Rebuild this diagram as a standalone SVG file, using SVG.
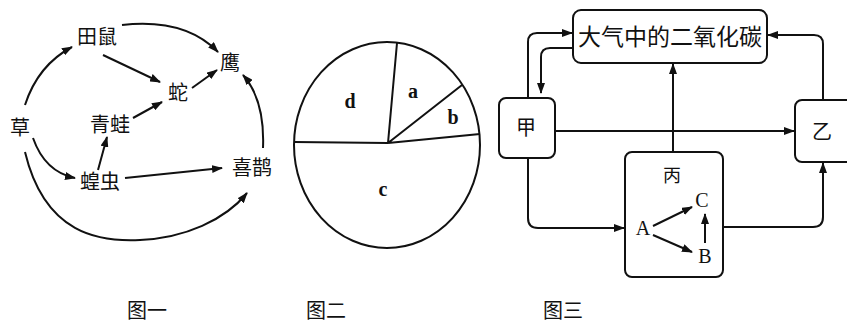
<svg xmlns="http://www.w3.org/2000/svg" width="847" height="325" viewBox="0 0 847 325">
<style>
.t{font-family:"Noto Sans CJK SC",sans-serif;font-size:20px;fill:#111;text-anchor:middle}
.s{font-family:"Liberation Serif",serif;font-size:20px;fill:#111;text-anchor:middle;font-weight:bold}
.ln{fill:none;stroke:#111;stroke-width:2}
.bx{fill:#fff;stroke:#111;stroke-width:2}
</style>
<defs>
<marker id="ah" markerUnits="userSpaceOnUse" markerWidth="11" markerHeight="8" refX="10" refY="4" orient="auto">
<path d="M0,0 L11,4 L0,8 z" fill="#111"/>
</marker>
</defs>
<rect width="847" height="325" fill="#fff"/>

<!-- Figure 1 -->
<g id="fig1-connectors">
<path class="ln" d="M25,105 Q38,65 72,47" marker-end="url(#ah)"/>
<path class="ln" d="M122,25 Q185,18 218,52" marker-end="url(#ah)"/>
<path class="ln" d="M103,55 L160,82" marker-end="url(#ah)"/>
<path class="ln" d="M192,88 L217,70" marker-end="url(#ah)"/>
<path class="ln" d="M133,118 L162,102" marker-end="url(#ah)"/>
<path class="ln" d="M98,170 L107,137" marker-end="url(#ah)"/>
<path class="ln" d="M33,138 Q45,172 75,178" marker-end="url(#ah)"/>
<path class="ln" d="M125,178 L222,168" marker-end="url(#ah)"/>
<path class="ln" d="M263,148 Q265,100 243,75" marker-end="url(#ah)"/>
<path class="ln" d="M25,152 C45,235 100,242 140,240 C185,238 225,220 247,193" marker-end="url(#ah)"/>
</g>
<g id="cao"><text class="t" x="20" y="135">草</text></g>
<g id="tianshu"><text class="t" x="97" y="44">田鼠</text></g>
<g id="ying"><text class="t" x="230" y="70">鹰</text></g>
<g id="she"><text class="t" x="178" y="100">蛇</text></g>
<g id="qingwa"><text class="t" x="110" y="132">青蛙</text></g>
<g id="huangchong"><text class="t" x="100" y="189">蝗虫</text></g>
<g id="xique"><text class="t" x="252" y="175">喜鹊</text></g>

<!-- Figure 2 -->
<g id="fig2">
<ellipse cx="387" cy="145" rx="93" ry="103" class="ln"/>
<path class="ln" d="M388,143 L294,142 M388,143 L480,134 M388,143 L397,43 M388,143 L462,85"/>
<text class="s" x="350" y="108">d</text>
<text class="s" x="413" y="98">a</text>
<text class="s" x="453" y="124">b</text>
<text class="s" x="383" y="196">c</text>
</g>

<!-- Figure 3 -->
<g id="co2"><rect class="bx" x="573" y="10" width="194" height="53" rx="8"/><text class="t" x="670" y="45" style="font-size:23px">大气中的二氧化碳</text></g>
<g id="jia"><rect class="bx" x="499" y="98" width="56" height="60" rx="7"/><text class="t" x="526" y="135">甲</text></g>
<g id="yi"><rect class="bx" x="795" y="100" width="60" height="62" rx="7"/><text class="t" x="822" y="139">乙</text></g>
<g id="bing"><rect class="bx" x="625" y="152" width="98" height="125" rx="7"/><text class="t" x="672" y="182" style="font-size:18px">丙</text>
<text class="s" x="643" y="235" style="font-weight:normal">A</text>
<text class="s" x="702" y="207" style="font-weight:normal">C</text>
<text class="s" x="705" y="263" style="font-weight:normal">B</text></g>
<g id="fig3-connectors">
<path class="ln" d="M555,131 L794,131" marker-end="url(#ah)"/>
<path class="ln" d="M673,152 L673,64" marker-end="url(#ah)"/>
<path class="ln" d="M528,98 L528,42 Q528,33 537,33 L572,33" marker-end="url(#ah)"/>
<path class="ln" d="M573,48 L550,48 Q541,48 541,57 L541,93" marker-end="url(#ah)"/>
<path class="ln" d="M823,100 L823,44 Q823,35 814,35 L768,35" marker-end="url(#ah)"/>
<path class="ln" d="M528,158 L528,218 Q528,228 538,228 L624,228" marker-end="url(#ah)"/>
<path class="ln" d="M723,227 L813,227 Q823,227 823,217 L823,163" marker-end="url(#ah)"/>
<path class="ln" d="M653,226 L692,207" marker-end="url(#ah)"/>
<path class="ln" d="M653,235 L692,252" marker-end="url(#ah)"/>
<path class="ln" d="M705,243 L705,214" marker-end="url(#ah)"/>
</g>

<!-- captions -->
<g id="captions">
<text class="t" x="147" y="318">图一</text>
<text class="t" x="326" y="318">图二</text>
<text class="t" x="563" y="318">图三</text>
</g>
</svg>
